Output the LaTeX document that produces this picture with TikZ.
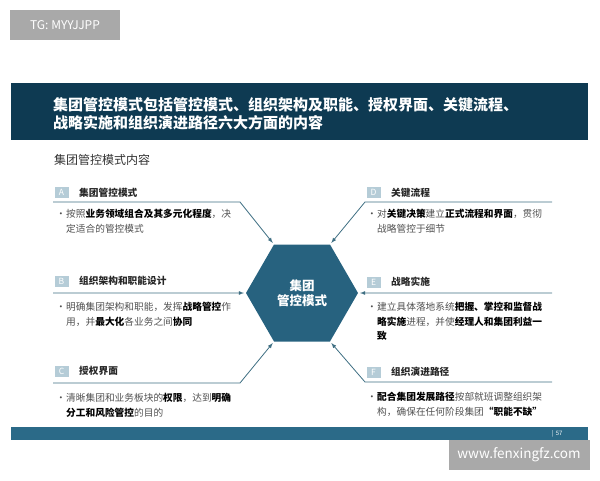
\documentclass[tikz,border=0pt]{standalone}
\usepackage{fontspec}
\setmainfont{Noto Sans CJK SC}
\usetikzlibrary{shapes.geometric}
\definecolor{navy}{HTML}{0E3A52}
\definecolor{hexblue}{HTML}{27627F}
\definecolor{footblue}{HTML}{2B6A88}
\definecolor{linecol}{HTML}{3E6E82}
\definecolor{labfill}{HTML}{B5CCD7}
\definecolor{bodygray}{HTML}{505050}
\definecolor{wmgray}{HTML}{A9A9A9}
\begin{document}
\begin{tikzpicture}[x=1pt,y=-1pt,>=latex,
  hexa/.style={regular polygon,regular polygon sides=6,minimum size=112pt,
    inner sep=0pt,outer sep=0pt,fill=hexblue,text=white,align=center,
    font=\bfseries\fontsize{12.5}{15}\selectfont},
  lbl/.style={fill=labfill,text=white,minimum width=14pt,minimum height=11pt,
    inner sep=0pt,font=\fontsize{8.5}{8.5}\selectfont},
  ttl/.style={anchor=west,inner sep=0pt,text=black!85,
    font=\bfseries\fontsize{9.7}{12}\selectfont},
  txt/.style={anchor=base west,inner sep=0pt,align=left,text=bodygray,
    font=\fontsize{9.7}{14.5}\selectfont},
  dot/.style={anchor=base west,inner sep=0pt,text=bodygray,
    font=\fontsize{9.7}{14.5}\selectfont},
  link/.style={draw=linecol,line width=0.8pt,->,shorten >=2pt},
  wm/.style={fill=wmgray,text=white,inner sep=0pt}]
\useasboundingbox (0,0) rectangle (600,480);
% watermarks
\node[wm,minimum width=110pt,minimum height=30pt,font=\fontsize{12}{12}\selectfont] (tg) at (65,25) {TG: MYYJJPP};
\node[wm,minimum width=141pt,minimum height=30pt,font=\fontsize{13.5}{14}\selectfont] (site) at (519,455) {www.fenxingfz.com};
% title bar
\fill[navy] (11,83) rectangle (588,140);
\node[anchor=west,inner sep=0pt,align=left,text=white,font=\bfseries\fontsize{15}{17.5}\selectfont] (title) at (53,114)
  {集团管控模式包括管控模式、组织架构及职能、授权界面、关键流程、\\战略实施和组织演进路径六大方面的内容};
\node[anchor=west,inner sep=0pt,text=black!80,font=\fontsize{12}{12}\selectfont] (sub) at (54,160) {集团管控模式内容};
% footer
\fill[footblue] (11,427) rectangle (588,440);
\node[inner sep=0pt,text=white,font=\fontsize{6}{6}\selectfont] (page) at (557,434) {|\ \ 57};
% centre
\node[hexa] (hex) at (302,293) {集团\\管控模式};
% coordinates of the leader lines
\coordinate (LA) at (53,202);
\coordinate (KA) at (240,202);
\coordinate (LB) at (53,293);
\coordinate (LC) at (53,383);
\coordinate (KC) at (240,383);
\coordinate (LD) at (552,202);
\coordinate (KD) at (365,202);
\coordinate (LE) at (552,293);
\coordinate (LF) at (552,382);
\coordinate (KF) at (365,382);
% A
\node[lbl] (labA) at (61.5,192.5) {A};
\node[ttl] (ttlA) at (79,192.5) {集团管控模式};
\draw[link] (LA) -- (KA) -- (hex.120);
\node[dot] (dotA) at (56,217.5) {•};
\node[txt] (txtA) at (66,232) {按照\textbf{\color{black}业务领域组合及其多元化程度}，决\\定适合的管控模式};
% B
\node[lbl] (labB) at (61.5,281) {B};
\node[ttl] (ttlB) at (79,281) {组织架构和职能设计};
\draw[link] (LB) -- (hex.180);
\node[dot] (dotB) at (56,310.5) {•};
\node[txt] (txtB) at (66,325) {明确集团架构和职能，发挥\textbf{\color{black}战略管控}作\\用，并\textbf{\color{black}最大化}各业务之间\textbf{\color{black}协同}};
% C
\node[lbl] (labC) at (61.5,371) {C};
\node[ttl] (ttlC) at (79,371) {授权界面};
\draw[link] (LC) -- (KC) -- (hex.240);
\node[dot] (dotC) at (56,401.5) {•};
\node[txt] (txtC) at (66,416) {清晰集团和业务板块的\textbf{\color{black}权限}，达到\textbf{\color{black}明确}\\\textbf{\color{black}分工和风险管控}的目的};
% D
\node[lbl] (labD) at (373.5,192.5) {D};
\node[ttl] (ttlD) at (391,192.5) {关键流程};
\draw[link] (LD) -- (KD) -- (hex.60);
\node[dot] (dotD) at (367,217.5) {•};
\node[txt] (txtD) at (377,232) {对\textbf{\color{black}关键决策}建立\textbf{\color{black}正式流程和界面}，贯彻\\战略管控于细节};
% E
\node[lbl] (labE) at (373.5,282) {E};
\node[ttl] (ttlE) at (391,282) {战略实施};
\draw[link] (LE) -- (hex.0);
\node[dot] (dotE) at (367,310.5) {•};
\node[txt] (txtE) at (377,339.5) {建立具体落地系统\textbf{\color{black}把握、掌控和监督战}\\\textbf{\color{black}略实施}进程，并使\textbf{\color{black}经理人和集团利益一}\\\textbf{\color{black}致}};
% F
\node[lbl] (labF) at (373.5,372) {F};
\node[ttl] (ttlF) at (391,372) {组织演进路径};
\draw[link] (LF) -- (KF) -- (hex.300);
\node[dot] (dotF) at (367,400.5) {•};
\node[txt] (txtF) at (377,415) {\textbf{\color{black}配合集团发展路径}按部就班调整组织架\\构，确保在任何阶段集团\textbf{\color{black}“职能不缺”}};
\end{tikzpicture}
\end{document}
